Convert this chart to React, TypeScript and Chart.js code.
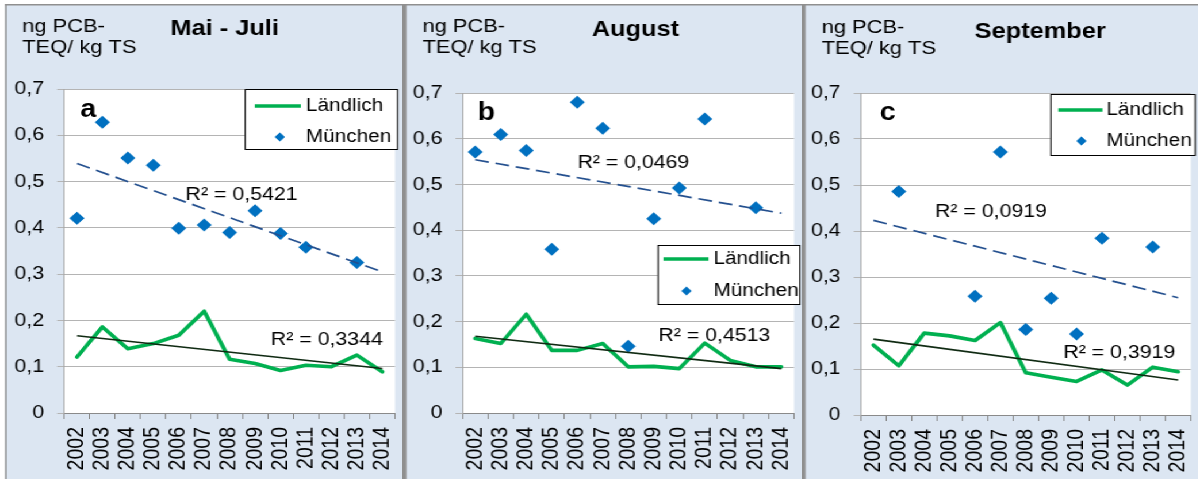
import React, { useEffect, useRef } from 'react';
import { Chart, registerables } from 'chart.js';

Chart.register(...registerables);

// ---------- data ----------
const years = ['2002', '2003', '2004', '2005', '2006', '2007', '2008', '2009', '2010', '2011', '2012', '2013', '2014'];
const yTickLabels = ['0', '0,1', '0,2', '0,3', '0,4', '0,5', '0,6', '0,7'];
const seriesNames = ['Ländlich', 'München'];
const panelTitles = ['Mai - Juli', 'August', 'September'];
const panelLetters = ['a', 'b', 'c'];
const yAxisTitle = ['ng PCB-', 'TEQ/ kg TS'];

const landlichMaiJuli = [0.121, 0.186, 0.139, 0.150, 0.168, 0.220, 0.116, 0.107, 0.092, 0.103, 0.100, 0.125, 0.089];
const muenchenMaiJuli = [0.421, 0.628, 0.551, 0.535, 0.399, 0.406, 0.390, 0.437, 0.388, 0.358, null, 0.325, null];
const trendMuenchenMaiJuli = [0.539, 0.305];
const trendLandlichMaiJuli = [0.167, 0.096];
const r2MaiJuli = ['R² = 0,5421', 'R² = 0,3344'];

const landlichAugust = [0.163, 0.152, 0.216, 0.137, 0.137, 0.152, 0.101, 0.102, 0.097, 0.153, 0.115, 0.101, 0.101];
const muenchenAugust = [0.571, 0.609, 0.574, 0.358, 0.680, 0.623, 0.146, 0.425, 0.492, 0.643, null, 0.449, null];
const trendMuenchenAugust = [0.554, 0.437];
const trendLandlichAugust = [0.168, 0.097];
const r2August = ['R² = 0,0469', 'R² = 0,4513'];

const landlichSeptember = [0.152, 0.107, 0.178, 0.172, 0.162, 0.201, 0.092, 0.082, 0.073, 0.098, 0.065, 0.104, 0.094];
const muenchenSeptember = [null, 0.486, null, null, 0.258, 0.572, 0.186, 0.254, 0.176, 0.384, null, 0.365, null];
const trendMuenchenSeptember = [0.423, 0.255];
const trendLandlichSeptember = [0.165, 0.076];
const r2September = ['R² = 0,0919', 'R² = 0,3919'];

// ---------- styles / layout ----------
const SX = 1.15; // horizontal stretch of the original picture
const PAGE_W = 1198;
const PAGE_H = 479;
const FONT = '"Liberation Sans", Arial, Helvetica, sans-serif';
const BG = '#dce6f2';
const BORDER = '#8f8f8f';
const GREEN = '#00b050';
const BLUE = '#0070c0';
const DASH_BLUE = '#24508f';
const TREND_DARK = '#0f2a12';

type PanelLayout = {
  x0: number; w: number; thinLeft: boolean;
  plot: { l: number; r: number; t: number; b: number };
  title: { x: number; y: number };
  ylab: { x: number; y1: number; y2: number };
  letter: { x: number; y: number };
  r2: { x: number; y: number }[];
  legend: { l: number; r: number; t: number; b: number; row1: number; row2: number; lineL: number; lineR: number; diamondX: number; textX: number };
};

const layouts: PanelLayout[] = [
  {
    x0: 0, w: 402, thinLeft: true,
    plot: { l: 64, r: 399, t: 89, b: 413 },
    title: { x: 224, y: 29 },
    ylab: { x: 22, y1: 27, y2: 48 },
    letter: { x: 80, y: 110 },
    r2: [{ x: 185, y: 195 }, { x: 270, y: 340 }],
    legend: { l: 244, r: 397, t: 89, b: 150, row1: 106, row2: 137, lineL: 254, lineR: 300, diamondX: 279, textX: 305 },
  },
  {
    x0: 402, w: 400, thinLeft: false,
    plot: { l: 60, r: 395, t: 93, b: 413 },
    title: { x: 233, y: 30 },
    ylab: { x: 20, y1: 27, y2: 48 },
    letter: { x: 75, y: 113 },
    r2: [{ x: 175, y: 163 }, { x: 256, y: 336 }],
    legend: { l: 255, r: 398, t: 245, b: 305, row1: 259, row2: 291, lineL: 261, lineR: 306, diamondX: 284, textX: 311 },
  },
  {
    x0: 802, w: 396, thinLeft: false,
    plot: { l: 59, r: 393, t: 93, b: 415 },
    title: { x: 238, y: 32 },
    ylab: { x: 20, y1: 28, y2: 49 },
    letter: { x: 78, y: 113 },
    r2: [{ x: 133, y: 212 }, { x: 261, y: 353 }],
    legend: { l: 248, r: 393, t: 94, b: 156, row1: 110, row2: 141, lineL: 256, lineR: 300, diamondX: 279, textX: 304 },
  },
];

const panelData = [
  { landlich: landlichMaiJuli, muenchen: muenchenMaiJuli, trendM: trendMuenchenMaiJuli, trendL: trendLandlichMaiJuli, r2: r2MaiJuli },
  { landlich: landlichAugust, muenchen: muenchenAugust, trendM: trendMuenchenAugust, trendL: trendLandlichAugust, r2: r2August },
  { landlich: landlichSeptember, muenchen: muenchenSeptember, trendM: trendMuenchenSeptember, trendL: trendLandlichSeptember, r2: r2September },
];

const trendSeries = (ends: number[]) =>
  years.map((_, i) => (i === 0 ? ends[0] : i === years.length - 1 ? ends[1] : null));

const X = (px: number) => px / SX;

function drawDiamond(ctx: CanvasRenderingContext2D, x: number, y: number, r: number) {
  ctx.beginPath();
  ctx.moveTo(x, y - r);
  ctx.lineTo(x + r, y);
  ctx.lineTo(x, y + r);
  ctx.lineTo(x - r, y);
  ctx.closePath();
  ctx.fill();
}

function makePanelPlugin(idx: number) {
  const L = layouts[idx];
  const D = panelData[idx];
  return {
    id: 'panelDecor' + idx,
    beforeDraw(chart: any) {
      const ctx: CanvasRenderingContext2D = chart.ctx;
      const W = chart.width;
      const H = chart.height;
      ctx.save();
      ctx.fillStyle = '#ffffff';
      ctx.fillRect(0, 0, W, H);
      const bx = L.thinLeft ? X(5) : 0;
      ctx.fillStyle = BG;
      ctx.fillRect(bx, 5, W - bx, H - 5);
      ctx.fillStyle = BORDER;
      ctx.fillRect(bx, 4, W - bx, 1.5);
      if (L.thinLeft) ctx.fillRect(bx, 4, X(1.6), H - 4);
      else ctx.fillRect(0, 4, X(4), H - 4);
      const a = chart.chartArea;
      ctx.fillStyle = '#ffffff';
      ctx.fillRect(a.left, a.top, a.right - a.left, a.bottom - a.top);
      ctx.restore();
    },
    afterDraw(chart: any) {
      const ctx: CanvasRenderingContext2D = chart.ctx;
      ctx.save();
      ctx.fillStyle = '#000000';
      ctx.textBaseline = 'middle';
      // title
      ctx.font = `bold 22px ${FONT}`;
      ctx.textAlign = 'center';
      ctx.fillText(panelTitles[idx], X(L.title.x), L.title.y);
      // y axis title
      ctx.font = `19px ${FONT}`;
      ctx.textAlign = 'left';
      ctx.fillText(yAxisTitle[0], X(L.ylab.x), L.ylab.y1);
      ctx.fillText(yAxisTitle[1], X(L.ylab.x), L.ylab.y2);
      // panel letter
      ctx.font = `bold 25px ${FONT}`;
      ctx.fillText(panelLetters[idx], X(L.letter.x), L.letter.y);
      // R² labels
      ctx.font = `18.5px ${FONT}`;
      ctx.fillText(D.r2[0], X(L.r2[0].x), L.r2[0].y);
      ctx.fillText(D.r2[1], X(L.r2[1].x), L.r2[1].y);
      // legend
      const g = L.legend;
      ctx.fillStyle = '#ffffff';
      ctx.fillRect(X(g.l), g.t, X(g.r - g.l), g.b - g.t);
      ctx.strokeStyle = '#000000';
      ctx.lineWidth = 1;
      ctx.strokeRect(X(g.l) + 0.5, g.t + 0.5, X(g.r - g.l) - 1, g.b - g.t - 1);
      ctx.strokeStyle = GREEN;
      ctx.lineWidth = 3.5;
      ctx.beginPath();
      ctx.moveTo(X(g.lineL), g.row1);
      ctx.lineTo(X(g.lineR), g.row1);
      ctx.stroke();
      ctx.fillStyle = BLUE;
      drawDiamond(ctx, X(g.diamondX), g.row2, 4.5);
      ctx.fillStyle = '#000000';
      ctx.font = `18px ${FONT}`;
      ctx.textAlign = 'left';
      ctx.fillText(seriesNames[0], X(g.textX), g.row1);
      ctx.fillText(seriesNames[1], X(g.textX), g.row2);
      ctx.restore();
    },
  };
}

function buildChart(canvas: HTMLCanvasElement, idx: number) {
  const L = layouts[idx];
  const D = panelData[idx];
  return new Chart(canvas, {
    type: 'line',
    data: {
      labels: years,
      datasets: [
        {
          label: 'Trend ' + seriesNames[1],
          data: trendSeries(D.trendM),
          spanGaps: true,
          borderColor: DASH_BLUE,
          borderWidth: 1.7,
          borderDash: [12, 6],
          pointRadius: 0,
          fill: false,
          order: 0,
        },
        {
          label: 'Trend ' + seriesNames[0],
          data: trendSeries(D.trendL),
          spanGaps: true,
          borderColor: TREND_DARK,
          borderWidth: 1.6,
          pointRadius: 0,
          fill: false,
          order: 0,
        },
        {
          label: seriesNames[1],
          data: D.muenchen,
          showLine: false,
          pointStyle: 'rectRot',
          pointRadius: 6.5,
          pointBackgroundColor: BLUE,
          pointBorderColor: BLUE,
          pointBorderWidth: 0,
          borderColor: BLUE,
          order: 1,
        },
        {
          label: seriesNames[0],
          data: D.landlich,
          borderColor: GREEN,
          borderWidth: 3.6,
          borderJoinStyle: 'round',
          borderCapStyle: 'round',
          pointRadius: 0,
          tension: 0,
          fill: false,
          order: 2,
        },
      ] as any,
    },
    options: {
      responsive: false,
      maintainAspectRatio: false,
      animation: false,
      devicePixelRatio: 1,
      events: [],
      layout: {
        padding: { left: 0, top: L.plot.t, right: X(L.w - L.plot.r), bottom: 0 },
      },
      plugins: {
        legend: { display: false },
        tooltip: { enabled: false },
        title: { display: false },
      },
      scales: {
        x: {
          type: 'category',
          offset: true,
          grid: {
            offset: true,
            drawOnChartArea: false,
            drawTicks: true,
            tickLength: 6,
            color: '#8a8a8a',
          },
          border: { display: true, color: '#8a8a8a', width: 1 },
          ticks: {
            autoSkip: false,
            minRotation: 90,
            maxRotation: 90,
            padding: 8,
            color: '#000000',
            font: { family: FONT, size: 19.5 },
          },
          afterFit: (s: any) => {
            s.height = PAGE_H - L.plot.b;
            s.paddingLeft = 0;
            s.paddingRight = 0;
          },
        },
        y: {
          min: 0,
          max: 0.7,
          ticks: {
            stepSize: 0.1,
            padding: X(13),
            color: '#000000',
            font: { family: FONT, size: 18.5 },
            callback: (v: any) => yTickLabels[Math.round(Number(v) * 10)],
          },
          grid: {
            color: '#b4b4b4',
            lineWidth: 1,
            drawTicks: true,
            tickLength: X(7),
          },
          border: { display: true, color: '#a6a6a6', width: 1 },
          afterFit: (s: any) => {
            s.width = X(L.plot.l);
            s.paddingTop = 0;
            s.paddingBottom = 0;
          },
        },
      },
    },
    plugins: [makePanelPlugin(idx)],
  });
}

export default function App() {
  const r0 = useRef<HTMLCanvasElement>(null);
  const r1 = useRef<HTMLCanvasElement>(null);
  const r2 = useRef<HTMLCanvasElement>(null);
  const refs = [r0, r1, r2];

  useEffect(() => {
    const charts = refs.map((r, i) => buildChart(r.current as HTMLCanvasElement, i));
    return () => charts.forEach((c) => c.destroy());
  }, []);

  return (
    <div
      style={{
        position: 'fixed',
        left: 0,
        top: 0,
        width: PAGE_W / SX,
        height: PAGE_H,
        transform: `scaleX(${SX})`,
        transformOrigin: '0 0',
        background: '#ffffff',
        overflow: 'hidden',
      }}
    >
      {layouts.map((L, i) => {
        const w = X(L.w);
        return (
          <canvas
            key={i}
            ref={refs[i]}
            width={w}
            height={PAGE_H}
            style={{ position: 'absolute', left: X(L.x0), top: 0, width: w, height: PAGE_H, display: 'block' }}
          />
        );
      })}
    </div>
  );
}
